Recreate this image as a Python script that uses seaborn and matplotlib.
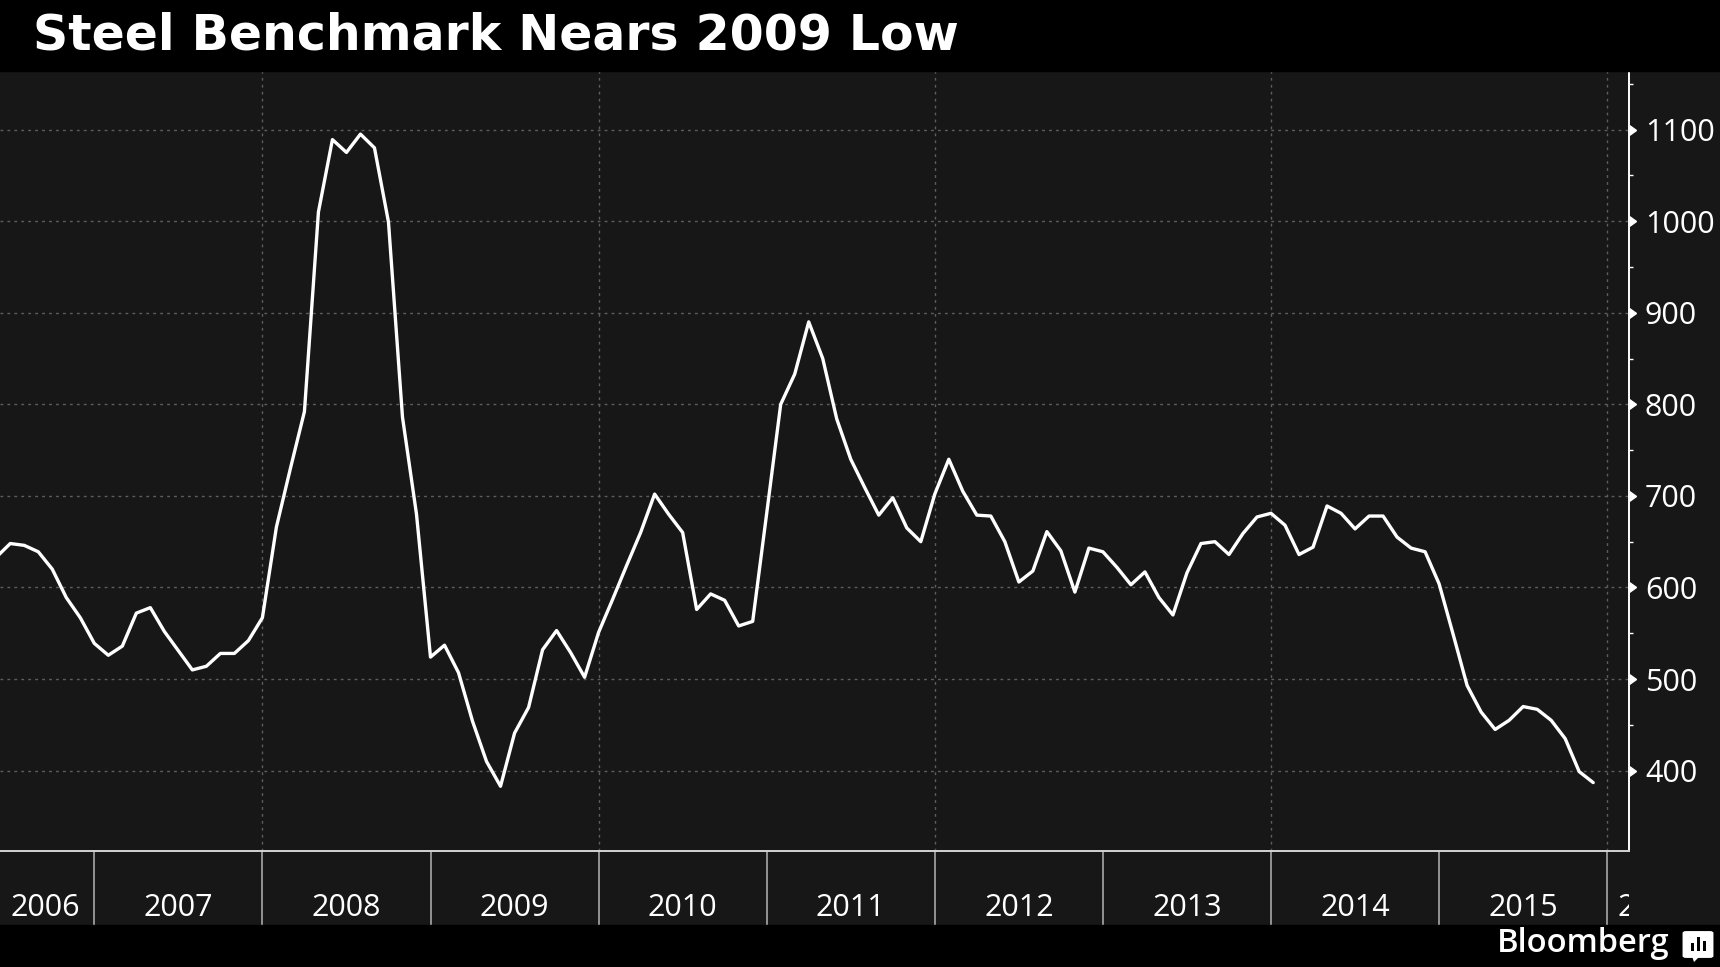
import numpy as np
import pandas as pd
import matplotlib
matplotlib.use("Agg")
import matplotlib.pyplot as plt
import matplotlib.transforms as mtransforms
from matplotlib.patches import Rectangle, FancyBboxPatch, Polygon
import seaborn as sns

# ---------------- data ----------------
title = "Steel Benchmark Nears 2009 Low"
source = "Bloomberg"
start_month = "2006-06-01"
end_month = "2015-12-01"
price = [
    # 2006 Jun-Dec
    633, 648, 646, 639, 620, 589, 567,
    # 2007
    539, 526, 536, 572, 578, 552, 531, 510, 514, 528, 528, 542,
    # 2008
    567, 666, 730, 792, 1010, 1089, 1075, 1095, 1080, 999, 786, 680,
    # 2009
    524, 537, 507, 454, 410, 383, 441, 469, 532, 553, 529, 502,
    # 2010
    551, 587, 624, 660, 702, 680, 660, 576, 593, 586, 558, 563,
    # 2011
    681, 800, 833, 890, 850, 784, 740, 709, 679, 698, 665, 650,
    # 2012
    702, 740, 705, 679, 678, 650, 606, 618, 661, 640, 595, 643,
    # 2013
    639, 622, 603, 617, 589, 570, 616, 648, 650, 636, 659, 677,
    # 2014
    681, 668, 636, 644, 689, 681, 664, 678, 678, 655, 643, 639,
    # 2015
    604, 549, 493, 464, 445, 455, 470, 467, 455, 435, 399, 387,
]
year_labels = ["2006", "2007", "2008", "2009", "2010", "2011", "2012",
               "2013", "2014", "2015", "2016"]
year_starts = [2006, 2007, 2008, 2009, 2010, 2011, 2012, 2013, 2014, 2015, 2016]
grid_years = [2008, 2010, 2012, 2014, 2016]
y_ticks = [400, 500, 600, 700, 800, 900, 1000, 1100]
y_minor = [450, 550, 650, 750, 850, 950, 1050, 1150]

months = pd.date_range(start_month, end_month, freq="MS")
df = pd.DataFrame({"date": months, "price": price})
df["t"] = df["date"].dt.year + (df["date"].dt.month - 1) / 12.0

# ---------------- style ----------------
W, H = 1720, 967
BG = "#171717"
sns.set_style("dark", {"axes.facecolor": BG, "figure.facecolor": BG,
                       "xtick.bottom": True, "ytick.right": True})
plt.rcParams["font.family"] = ["Open Sans", "DejaVu Sans"]

fig = plt.figure(figsize=(W / 100, H / 100), dpi=100, facecolor=BG)

# layout in pixels
ax_left, ax_right, ax_top, ax_bottom = 0, 1629, 71, 851
ax = fig.add_axes([ax_left / W, 1 - ax_bottom / H,
                   (ax_right - ax_left) / W, (ax_bottom - ax_top) / H])
ax.set_facecolor(BG)

# top and bottom black bars
fig.patches.append(Rectangle((0, 1 - ax_top / H), 1, ax_top / H,
                             transform=fig.transFigure, color="black", zorder=0))
fig.patches.append(Rectangle((0, 0), 1, 1 - 925 / H,
                             transform=fig.transFigure, color="black", zorder=0))

sns.lineplot(data=df, x="t", y="price", ax=ax, color="white", lw=2.4,
             zorder=5)

xmin = 2007 - 94.3 / 168.1
xmax = xmin + (ax_right - ax_left) / 168.1
ax.set_xlim(xmin, xmax)
ax.set_ylim(312.3, 1163.9)
ax.set_xlabel("")
ax.set_ylabel("")

# grid
grid_kw = dict(color="#5e5e5e", lw=1.0, ls=(0, (2, 3)))
for v in y_ticks:
    ax.axhline(v, zorder=1, **grid_kw)
for g in grid_years:
    ax.axvline(g, zorder=1, **grid_kw)
ax.grid(False)

# spines
for s in ["left", "top"]:
    ax.spines[s].set_visible(False)
ax.spines["bottom"].set_color("#d4d4d4")
ax.spines["bottom"].set_linewidth(1.4)
ax.spines["right"].set_color("white")
ax.spines["right"].set_linewidth(1.4)

# y axis on right
ax.yaxis.tick_right()
ax.set_yticks(y_ticks)
ax.set_yticklabels([str(v) for v in y_ticks])
ax.set_yticks(y_minor, minor=True)
ax.tick_params(axis="y", which="both", left=False, right=True)
ax.tick_params(axis="y", which="major", length=0, pad=11.5,
               labelcolor="white", labelsize=22)
ax.tick_params(axis="y", which="minor", length=3, width=1, color="white",
               direction="out")
ax.plot([1.0] * len(y_ticks), y_ticks, transform=ax.get_yaxis_transform(),
        marker=9, ms=7, color="white", ls="none", clip_on=False, zorder=6)

# x axis: year separators
ax.set_xticks(year_starts[1:])
ax.set_xticklabels([""] * len(year_starts[1:]))
ax.tick_params(axis="x", which="major", bottom=True, top=False, length=53.5,
               width=1.2, color="#a8a8a8", direction="out")
ax.tick_params(axis="x", which="minor", length=0)

clip_rect = Rectangle((0, 0), ax_right / W, 1, transform=fig.transFigure,
                      facecolor="none", edgecolor="none")
fig.patches.append(clip_rect)
btrans = mtransforms.blended_transform_factory(ax.transData, fig.transFigure)
pad_yr = 10 / 168.1
for ys, lab in zip(year_starts, year_labels):
    a = max(ys, xmin)
    b = min(ys + 1, xmax)
    if b - a > 0.6:
        txt = ax.text((a + b) / 2, 1 - 908 / H, lab, transform=btrans,
                      ha="center", va="center", color="white", fontsize=22,
                      clip_on=True)
    else:
        txt = ax.text(a + pad_yr, 1 - 908 / H, lab, transform=btrans,
                      ha="left", va="center", color="white", fontsize=22,
                      clip_on=True)
    txt.set_clip_path(clip_rect)

# title
fig.text(33 / W, 1 - 50 / H, title, color="white", fontsize=35.2,
         fontweight="bold", family="DejaVu Sans", va="baseline", ha="left")

# Bloomberg logo
fig.text(1670 / W, 1 - 944 / H, source, color="white", fontsize=23.5,
         fontweight="semibold", va="center", ha="right")
icon = FancyBboxPatch((1686 / W, 1 - 956 / H), 24 / W, 23 / H,
                      boxstyle="round,pad=0.002", transform=fig.transFigure,
                      facecolor="white", edgecolor="none")
fig.patches.append(icon)
fig.patches.append(Polygon([[1692 / W, 1 - 956 / H], [1700 / W, 1 - 956 / H],
                            [1694 / W, 1 - 962 / H]], closed=True,
                           transform=fig.transFigure, facecolor="white",
                           edgecolor="none"))
for i, hgt in enumerate([8, 14, 10]):
    fig.patches.append(Rectangle(((1691 + i * 6) / W, 1 - 951 / H), 3 / W,
                                 hgt / H, transform=fig.transFigure,
                                 facecolor="black", edgecolor="none"))

fig.savefig("out.png", dpi=100, facecolor=fig.get_facecolor())
